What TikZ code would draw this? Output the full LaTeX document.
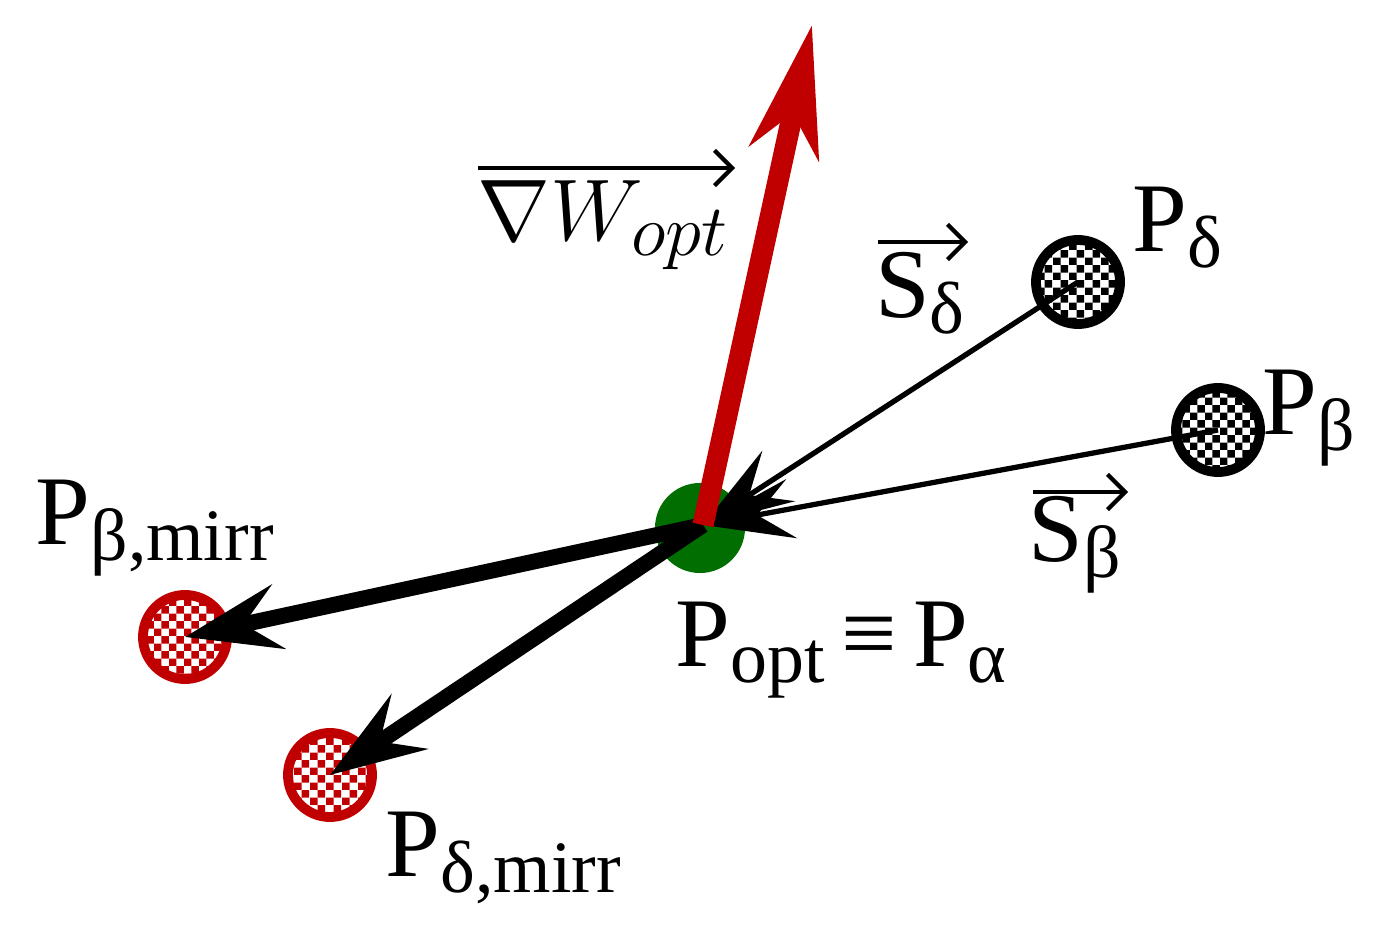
\documentclass[tikz,border=0pt]{standalone}
\usepackage{fontspec}
\setmainfont{Liberation Serif}
\usetikzlibrary{arrows.meta,patterns.meta}
\definecolor{rd}{RGB}{192,0,0}
\definecolor{gr}{RGB}{0,110,0}
\tikzdeclarepattern{name=finecheck,type=uncolored,bounding box={(0,0) and (4.4pt,4.4pt)},tile size={(4.4pt,4.4pt)},
  code={\fill (0,0) rectangle (2.2pt,2.2pt); \fill (2.2pt,2.2pt) rectangle (4.4pt,4.4pt);}}
\newcommand{\lsub}[1]{\raisebox{-0.35ex}{\fontsize{21}{22}\selectfont #1}}
\tikzset{
  pt/.style={circle,minimum size=0.84cm,inner sep=0pt,line width=2.8pt},
  blk/.style={pt,draw=black,pattern=finecheck,pattern color=black},
  red/.style={pt,draw=rd,pattern=finecheck,pattern color=rd},
  thin/.style={line width=1.5pt,-{Stealth[length=0.9cm,width=0.6cm,inset=0.35cm]}},
  thick/.style={line width=4.5pt,-{Stealth[length=0.95cm,width=0.65cm,inset=0.35cm]}},
  lbl/.style={font=\fontsize{28}{30}\selectfont,inner sep=0pt},
}
\begin{document}
\begin{tikzpicture}[x=0.01cm,y=-0.01cm]
\useasboundingbox (0,0) rectangle (1391,928);
\node[circle,fill=gr,minimum size=0.9cm,inner sep=0pt] (opt) at (700,528) {};
\coordinate (o) at (703,525);
\node[blk] (pd) at (1078,282) {};
\node[blk] (pb) at (1218,430) {};
\node[red] (pbm) at (185,637) {};
\node[red] (pdm) at (330,775) {};
\coordinate (tip) at (812,25);
\draw[thin] (pd.center) -- (o);
\draw[thin] (pb.center) -- (o);
\draw[thick] (o) -- (pbm.center);
\draw[thick] (o) -- (pdm.center);
\draw[rd,line width=6pt,-{Stealth[length=1.3cm,width=0.7cm,inset=0.4cm]}] (o) -- (tip);
\node[lbl,anchor=west] (lpd) at (1132,228) {P\lsub{δ}};
\node[lbl,anchor=west] (lpb) at (1262,418) {P\lsub{β}};
\node[lbl,anchor=west] (lpbm) at (35,528) {P\lsub{β,mirr}};
\node[lbl,anchor=west] (lpdm) at (385,858) {P\lsub{δ,mirr}};
\node[lbl,anchor=west] (lopt) at (675,650) {P\lsub{opt}\,≡\,P\lsub{α}};
\draw[line width=1.2pt,-{Straight Barb[length=5pt]}] (878,242) -- (968,242);
\node[lbl] (lsd) at (920,293) {S\lsub{δ}};
\draw[line width=1.2pt,-{Straight Barb[length=5pt]}] (1033,492) -- (1128,492);
\node[lbl] (lsb) at (1075,545) {S\lsub{β}};
\draw[line width=1.2pt,-{Straight Barb[length=5pt]}] (478,168) -- (735,168);
\node[lbl] (lw) at (603,225) {$\nabla W_{opt}$};
\end{tikzpicture}
\end{document}
